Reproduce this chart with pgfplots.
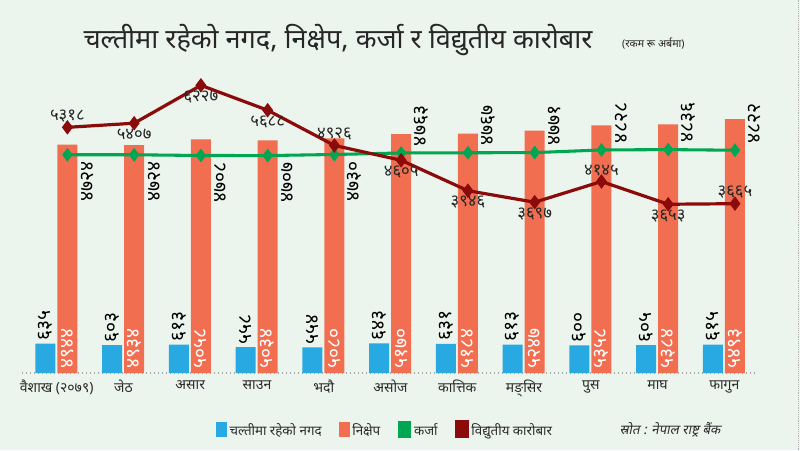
\documentclass[border=0pt]{standalone}
\usepackage{pgfplots}
\pgfplotsset{compat=1.18}
\usepackage{pgfplotstable}
\usepackage{fontspec}
\setmainfont[Script=Devanagari]{Noto Sans}
\newfontfamily\devslant[Script=Devanagari, FakeSlant=0.2]{Noto Sans}

\definecolor{bg}{HTML}{EBF5EE}
\definecolor{cblue}{HTML}{29A9E1}
\definecolor{corange}{HTML}{F26E50}
\definecolor{cgreen}{HTML}{00A651}
\definecolor{cred}{HTML}{8B0A0A}
\definecolor{ctext}{HTML}{2B2B2B}

% रकम रू अर्बमा
\pgfplotstableread{
x cash cl dep dl loan ll etr el
0 635 ६३५ 4944 ४९४४ 4724 ४७२४ 5318 ५३१८
1 603 ६०३ 4934 ४९३४ 4724 ४७२४ 5407 ५४०७
2 613 ६१३ 5058 ५०५८ 4708 ४७०८ 6227 ६२२७
3 558 ५५८ 5034 ५०३४ 4707 ४७०७ 5688 ५६८८
4 554 ५५४ 5080 ५०८० 4730 ४७३० 4926 ४९२६
5 643 ६४३ 5170 ५१७० 4763 ४७६३ 4605 ४६०५
6 631 ६३१ 5184 ५१८४ 4767 ४७६७ 3946 ३९४६
7 613 ६१३ 5247 ५२४७ 4771 ४७७१ 3697 ३६९७
8 600 ६०० 5358 ५३५८ 4828 ४८२८ 4145 ४१४५
9 605 ६०५ 5384 ५३८४ 4836 ४८३६ 3653 ३६५३
10 615 ६१५ 5493 ५४९३ 4822 ४८२२ 3665 ३६६५
}\data

\tikzset{
  vlab/.style={rotate=90, text=black, font=\bfseries\fontsize{14.5}{14.5}\selectfont},
  hlab/.style={text=black!85, font=\bfseries\fontsize{12.5}{12.5}\selectfont, inner sep=4pt},
}

\begin{document}
\begin{tikzpicture}
\fill[bg] (0,0) rectangle (600pt,337.5pt);
\path[use as bounding box] (0,0) rectangle (600pt,337.5pt);
\draw[gray!60, densely dotted] (598.5pt,0) -- (598.5pt,337.5pt);

\begin{axis}[
  at={(16.5pt,57.75pt)}, anchor=south west,
  scale only axis, width=551.25pt, height=246pt,
  xmin=-0.68, xmax=10.33, ymin=0, ymax=7100,
  hide y axis, axis x line*=bottom,
  x axis line style={gray!70, dotted, line width=1pt},
  xtick={0,...,10}, major tick length=0pt,
  xticklabels={वैशाख (२०७९), जेठ, असार, साउन, भदौ, असोज, कात्तिक, मङ्सिर, पुस, माघ, फागुन},
  xticklabel style={font=\fontsize{10.5}{12}\selectfont, text=ctext, xshift=-8pt, yshift=-2pt},
  clip=false,
  legend style={at={(0.2585,-0.174)}, anchor=west, draw=none, fill=none,
    legend columns=-1, font=\fontsize{10}{12}\selectfont, text=ctext,
    /tikz/every even column/.append style={column sep=11pt}},
  legend cell align=left,
]
% cash in circulation
\addplot[ybar, fill=cblue, draw=none, bar width=0.3, bar shift=-0.33,
  legend image code/.code={\fill[cblue] (0pt,-5pt) rectangle (8pt,6pt);}]
  table[x=x, y=cash] {\data};
\addlegendentry{चल्तीमा रहेको नगद}
% deposits
\addplot[ybar, fill=corange, draw=none, bar width=0.3, bar shift=0,
  legend image code/.code={\fill[corange] (0pt,-5pt) rectangle (8pt,6pt);}]
  table[x=x, y=dep] {\data};
\addlegendentry{निक्षेप}
% loans
\addplot[cgreen, line width=2.3pt, mark=diamond*, mark size=3.3pt,
  legend image code/.code={\fill[cgreen] (0pt,-5pt) rectangle (8pt,6pt);}]
  table[x=x, y=loan] {\data};
\addlegendentry{कर्जा}
% electronic transactions
\addplot[cred, line width=2.4pt, mark=diamond*, mark size=3.5pt,
  legend image code/.code={\fill[cred] (0pt,-5pt) rectangle (8pt,6pt);}]
  table[x=x, y=etr] {\data};
\addlegendentry{विद्युतीय कारोबार}

% cash labels above the blue bars
\addplot[forget plot, draw=none, mark=none,
  nodes near coords, point meta=explicit symbolic,
  every node near coord/.style={vlab, anchor=west, inner sep=2pt}]
  table[x expr=\thisrow{x}-0.33, y=cash, meta=cl] {\data};
% electronic transaction labels, above the point
\addplot[forget plot, draw=none, mark=none,
  skip coords between index={1}{4}, skip coords between index={5}{8},
  skip coords between index={9}{10},
  nodes near coords, point meta=explicit symbolic,
  every node near coord/.style={hlab, anchor=south}]
  table[x=x, y=etr, meta=el] {\data};
% electronic transaction labels, below the point
\addplot[forget plot, draw=none, mark=none,
  skip coords between index={0}{1}, skip coords between index={4}{5},
  skip coords between index={8}{9}, skip coords between index={10}{11},
  nodes near coords, point meta=explicit symbolic,
  every node near coord/.style={hlab, anchor=north}]
  table[x=x, y=etr, meta=el] {\data};
% deposit labels inside bars
\addplot[forget plot, draw=none, mark=none,
  nodes near coords, point meta=explicit symbolic,
  every node near coord/.style={vlab, text=white, anchor=west, inner sep=3pt}]
  table[x=x, y expr=0, meta=dl] {\data};
% loan labels beside bars, hanging below the line
\addplot[forget plot, draw=none, mark=none,
  skip coords between index={5}{11},
  nodes near coords, point meta=explicit symbolic,
  every node near coord/.style={vlab, anchor=east, inner sep=5pt}]
  table[x expr=\thisrow{x}+0.3, y=loan, meta=ll] {\data};
% loan labels beside bars, standing on the line
\addplot[forget plot, draw=none, mark=none,
  skip coords between index={0}{5},
  nodes near coords, point meta=explicit symbolic,
  every node near coord/.style={vlab, anchor=west, inner sep=5pt}]
  table[x expr=\thisrow{x}+0.3, y=loan, meta=ll] {\data};
\end{axis}

\node[font=\bfseries\fontsize{20.3}{20.3}\selectfont, text=black!85] at (253.5pt,307.5pt)
  {चल्तीमा रहेको नगद, निक्षेप, कर्जा र विद्युतीय कारोबार};
\node[font=\fontsize{8}{8}\selectfont, text=black!85] at (490pt,305pt) {(रकम रू अर्बमा)};
\node[font=\devslant\fontsize{10}{12}\selectfont, text=ctext] at (502.5pt,15pt)
  {स्रोत : नेपाल राष्ट्र बैंक};
\end{tikzpicture}
\end{document}
